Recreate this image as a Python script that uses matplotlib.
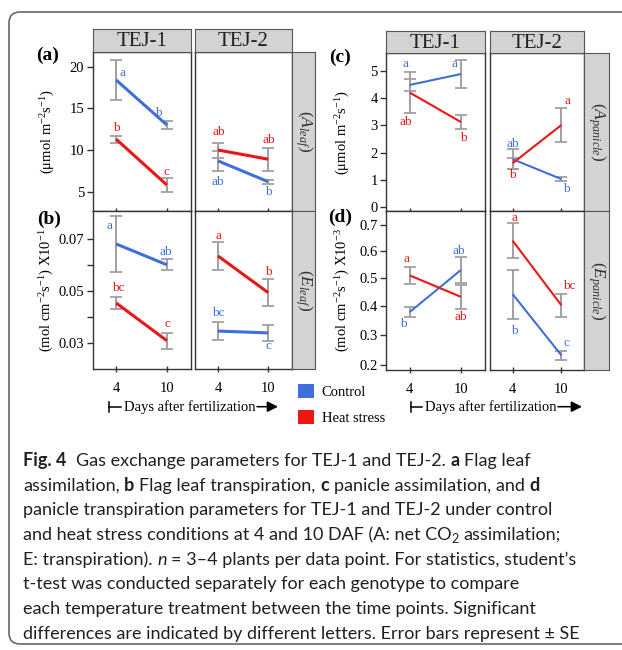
import numpy as np
import matplotlib
matplotlib.use('Agg')
import matplotlib.pyplot as plt
from matplotlib.patches import Patch, FancyBboxPatch
from matplotlib.transforms import IdentityTransform

plt.rcParams['font.family'] = 'Liberation Serif'
plt.rcParams['mathtext.fontset'] = 'custom'
plt.rcParams['mathtext.rm'] = 'Liberation Serif'
plt.rcParams['mathtext.it'] = 'Liberation Serif:italic'
plt.rcParams['mathtext.bf'] = 'Liberation Serif:bold'
plt.rcParams['mathtext.sf'] = 'Lato'

W, H = 622, 650
BLUE = '#3f6fdc'
RED = '#ee1515'
GRAY = '#d3d3d3'
DARK = '#333333'

days = [4, 10]
genotypes = ['TEJ-1', 'TEJ-2']

# (a) flag leaf assimilation, [TEJ-1, TEJ-2] x [4, 10 DAF]
a_ctrl = [[18.4, 13.0], [8.7, 6.2]]
a_ctrl_se = [[2.4, 0.45], [1.2, 0.25]]
a_heat = [[11.3, 5.8], [10.0, 8.9]]
a_heat_se = [[0.4, 0.8], [0.9, 1.4]]
a_ctrl_let = [['a', 'b'], ['ab', 'b']]
a_heat_let = [['b', 'c'], ['ab', 'ab']]

# (b) flag leaf transpiration
b_ctrl = [[0.0682, 0.0602], [0.0347, 0.0340]]
b_ctrl_se = [[0.0106, 0.0021], [0.0036, 0.0031]]
b_heat = [[0.0455, 0.0310], [0.0636, 0.0495]]
b_heat_se = [[0.0023, 0.0031], [0.0054, 0.0053]]
b_ctrl_let = [['a', 'ab'], ['bc', 'c']]
b_heat_let = [['bc', 'c'], ['a', 'b']]

# (c) panicle assimilation
c_ctrl = [[4.48, 4.88], [1.76, 1.03]]
c_ctrl_se = [[0.22, 0.52], [0.36, 0.06]]
c_heat = [[4.2, 3.12], [1.61, 3.01]]
c_heat_se = [[0.76, 0.27], [0.2, 0.63]]
c_ctrl_let = [['a', 'a'], ['ab', 'b']]
c_heat_let = [['ab', 'b'], ['b', 'a']]

# (d) panicle transpiration
d_ctrl = [[0.378, 0.530], [0.442, 0.231]]
d_ctrl_se = [[0.019, 0.047], [0.088, 0.015]]
d_heat = [[0.510, 0.432], [0.640, 0.402]]
d_heat_se = [[0.032, 0.043], [0.067, 0.040]]
d_ctrl_let = [['b', 'ab'], ['b', 'c']]
d_heat_let = [['a', 'ab'], ['a', 'bc']]

# letter offsets in pixels (dx, dy)
a_off = ([[(6, 7), (-9, 12)], [(0, -21), (0, -10)]], [[(0, 11), (0, 13)], [(1, 18), (1, 19)]])
b_off = ([[(-7, 18), (-1, 13)], [(0, 18), (0, -13)]], [[(2, 15), (1, 17)], [(1, 20), (0, 21)]])
c_off = ([[(-4, 21), (-6, 10)], [(0, 15), (5, -10)]], [[(-4, -29), (2, -16)], [(0, -12), (6, 24)]])
d_off = ([[(-6, -12), (-2, 19)], [(2, -37), (5, 12)]], [[(-3, 16), (0, -20)], [(2, 23), (8, 19)]])

ylab_assim = '(μmol m$^{-2}$s$^{-1}$)'

panels = [
    dict(tag='(a)', g=0, row=0, ctrl=a_ctrl, cse=a_ctrl_se, heat=a_heat, hse=a_heat_se,
         clet=a_ctrl_let, hlet=a_heat_let, off=a_off, ylim=(2.72, 21.76),
         yticks=[5, 10, 15, 20], ylabels=['5', '10', '15', '20'], minor=[],
         ylabel=ylab_assim, strip=r'$(\mathit{A}_{\mathit{leaf}})$', lw=2.2, lx=-0.364, tagxy=(48, 55)),
    dict(tag='(b)', g=0, row=1, ctrl=b_ctrl, cse=b_ctrl_se, heat=b_heat, hse=b_heat_se,
         clet=b_ctrl_let, hlet=b_heat_let, off=b_off, ylim=(0.020, 0.081),
         yticks=[0.03, 0.05, 0.07], ylabels=['0.03', '0.05', '0.07'], minor=[0.04, 0.06],
         ylabel='(mol cm$^{-2}$s$^{-1}$) X10$^{-1}$', strip=r'$(\mathit{E}_{\mathit{leaf}})$', lw=2.2,
         lx=-0.375, tagxy=(49, 219)),
    dict(tag='(c)', g=1, row=0, ctrl=c_ctrl, cse=c_ctrl_se, heat=c_heat, hse=c_heat_se,
         clet=c_ctrl_let, hlet=c_heat_let, off=c_off, ylim=(-0.14, 5.64),
         yticks=[0, 1, 2, 3, 4, 5], ylabels=['0', '1', '2', '3', '4', '5'], minor=[],
         ylabel=ylab_assim, strip=r'$(\mathit{A}_{\mathit{panicle}})$', lw=1.5, lx=-0.343, tagxy=(340, 57)),
    dict(tag='(d)', g=1, row=1, ctrl=d_ctrl, cse=d_ctrl_se, heat=d_heat, hse=d_heat_se,
         clet=d_ctrl_let, hlet=d_heat_let, off=d_off, ylim=(0.1838, 0.7544),
         yticks=[0.2, 0.3, 0.4, 0.5, 0.6, 0.7], ylabels=['0.2', '0.3', '0.4', '0.5', '0.6', '0.7'],
         minor=[], ylabel='(mol cm$^{-2}$s$^{-1}$) X10$^{-3}$', strip=r'$(\mathit{E}_{\mathit{panicle}})$',
         lw=1.5, lx=-0.343, tagxy=(340, 217), power=0.85),
]

# facet geometry in pixels
groups = [
    dict(cols=[(92.7, 190.7), (194.7, 291.7)], rows=[(52, 210.7), (210.7, 369.3)],
         head=(29.3, 52), side=(291.7, 315), days_x=(108.7, 121, 189.5, 257, 278)),
    dict(cols=[(386, 485), (490, 584.3)], rows=[(53.3, 211), (211, 370)],
         head=(30.7, 53.3), side=(584.3, 609.3), days_x=(411, 422, 490.5, 558, 582)),
]


def box(x0, x1, y0, y1):
    return [x0 / W, 1 - y1 / H, (x1 - x0) / W, (y1 - y0) / H]


fig = plt.figure(figsize=(W / 100, H / 100), dpi=100)

# rounded frame around the figure
frame = FancyBboxPatch((9, 6), 720, 632, boxstyle='round,pad=0,rounding_size=11',
                       transform=IdentityTransform(), fill=False, ec='#666666', lw=1.2)
fig.add_artist(frame)

xlim = (1.22, 12.82)

for p in panels:
    g = groups[p['g']]
    y0, y1 = g['rows'][p['row']]
    for j, gen in enumerate(genotypes):
        x0, x1 = g['cols'][j]
        ax = fig.add_axes(box(x0, x1, y0, y1))
        if 'power' in p:
            k = p['power']
            ax.set_yscale('function', functions=(lambda v, k=k: np.sign(v) * np.abs(v) ** k,
                                                 lambda u, k=k: np.sign(u) * np.abs(u) ** (1 / k)))
        for means, ses, col, lets, off in [(p['ctrl'], p['cse'], BLUE, p['clet'], p['off'][0]),
                                           (p['heat'], p['hse'], RED, p['hlet'], p['off'][1])]:
            eb = ax.errorbar(days, means[j], yerr=ses[j], fmt='none', ecolor='#a0a0a0',
                             elinewidth=1.4, capsize=4.5, capthick=1.3, zorder=2)
            for cap in eb[1]:
                cap.set_color('#404040')
            ax.plot(days, means[j], color=col, lw=p['lw'], zorder=3, solid_capstyle='butt')
            for i in range(2):
                ax.annotate(lets[j][i], (days[i], means[j][i]), xytext=(off[j][i][0], off[j][i][1]),
                            textcoords='offset pixels', ha='center', va='center',
                            color=col, fontsize=9.5, zorder=4)
        ax.set_xlim(*xlim)
        ax.set_ylim(*p['ylim'])
        ax.set_xticks(days)
        ax.set_xticklabels(['4', '10'])
        ax.set_yticks(p['yticks'])
        ax.set_yticks(p['minor'], minor=True)
        for s in ax.spines.values():
            s.set_color(DARK)
            s.set_linewidth(1.0)
        ax.tick_params(axis='x', direction='inout', length=5, width=1, color=DARK,
                       labelsize=10.5, pad=7, labelbottom=(p['row'] == 1))
        if j == 0:
            ax.set_yticklabels(p['ylabels'])
            ax.tick_params(axis='y', which='both', direction='out', length=4, width=1,
                           color=DARK, labelsize=10.5, pad=2)
            ax.set_ylabel(p['ylabel'], fontsize=10.5)
            ax.yaxis.set_label_coords(p['lx'], 0.5)
        else:
            ax.tick_params(axis='y', which='both', left=False, labelleft=False)

        # column header strip
        if p['row'] == 0:
            hx = fig.add_axes(box(x0, x1, g['head'][0], g['head'][1]))
            hx.set_facecolor(GRAY)
            hx.set_xticks([])
            hx.set_yticks([])
            for s in hx.spines.values():
                s.set_color('#555555')
            hx.text(0.5, 0.45, gen, ha='center', va='center', fontsize=15, color='#222222',
                    transform=hx.transAxes)

    # row strip on the right
    sx = fig.add_axes(box(g['side'][0], g['side'][1], y0, y1))
    sx.set_facecolor(GRAY)
    sx.set_xticks([])
    sx.set_yticks([])
    for s in sx.spines.values():
        s.set_color('#555555')
    sx.text(0.5, 0.5, p['strip'], rotation=-90, ha='center', va='center', fontsize=12.5,
            color='#333333', transform=sx.transAxes)

    fig.text(p['tagxy'][0] / W, 1 - p['tagxy'][1] / H, p['tag'], fontsize=14,
             fontweight='bold', ha='center', va='center')

# "Days after fertilization" axis titles with bar and arrow
for g in groups:
    xb, xl, xc, xr, xa = g['days_x']
    yy = H - 406.7
    fig.text(xc / W, yy / H, 'Days after fertilization', ha='center', va='center', fontsize=10.5)
    fig.add_artist(plt.Line2D([xb / W, xl / W], [yy / H, yy / H], color='k', lw=1.1))
    fig.add_artist(plt.Line2D([xb / W, xb / W], [(yy - 5) / H, (yy + 5) / H], color='k', lw=1.1))
    plt.annotate('', xy=(xa, yy), xytext=(xr, yy), xycoords='figure pixels',
                 arrowprops=dict(arrowstyle='-|>', color='k', lw=1.1, mutation_scale=16,
                                 shrinkA=0, shrinkB=0))

# legend
handles = [Patch(facecolor=BLUE, edgecolor='none'), Patch(facecolor=RED, edgecolor='none')]
fig.legend(handles, ['Control', 'Heat stress'], loc='upper left',
           bbox_to_anchor=(297.7 / W, 1 - 384 / H), frameon=False, fontsize=10.5,
           handlelength=1.1, handleheight=1.05, handletextpad=0.55, labelspacing=0.8,
           borderpad=0, borderaxespad=0)

# caption
cap_font = 'Lato'
cap_size = 13.0
B = dict(fontweight='bold')
I = dict(fontstyle='italic')
caption = [
    [('Fig. 4', B), ('  Gas exchange parameters for TEJ-1 and TEJ-2. ', {}), ('a', B), (' Flag leaf', {})],
    [('assimilation, ', {}), ('b', B), (' Flag leaf transpiration, ', {}), ('c', B),
     (' panicle assimilation, and ', {}), ('d', B)],
    [('panicle transpiration parameters for TEJ-1 and TEJ-2 under control', {})],
    [('and heat stress conditions at 4 and 10 DAF (A: net CO', {}), ('2', dict(fontsize=9, dy=-3)),
     (' assimilation;', {})],
    [('E: transpiration). ', {}), ('n', I), (' = 3–4 plants per data point. For statistics, student’s', {})],
    [('t-test was conducted separately for each genotype to compare', {})],
    [('each temperature treatment between the time points. Significant', {})],
    [('differences are indicated by different letters. Error bars represent ± SE', {})],
]

r = fig.canvas.get_renderer()


def width(txt, **kw):
    t = fig.text(0, 0, txt, family=cap_font, fontsize=kw.get('fontsize', cap_size),
                 fontweight=kw.get('fontweight', 'normal'), fontstyle=kw.get('fontstyle', 'normal'))
    w = t.get_window_extent(r).width
    t.remove()
    return w


sp = width('a a') - width('aa')
for li, line in enumerate(caption):
    x = 23.0
    yb = 466 + 24.7 * li
    for txt, kw in line:
        kw = dict(kw)
        dy = kw.pop('dy', 0)
        lead = len(txt) - len(txt.lstrip(' '))
        trail = len(txt) - len(txt.rstrip(' '))
        x += lead * sp
        core = txt.strip(' ')
        fig.text(x / W, 1 - (yb - dy) / H, core, family=cap_font, fontsize=kw.get('fontsize', cap_size),
                 fontweight=kw.get('fontweight', 'normal'), fontstyle=kw.get('fontstyle', 'normal'),
                 ha='left', va='baseline', color='#231f20')
        x += width(core, **kw) + trail * sp

fig.savefig('out.png', dpi=100)
